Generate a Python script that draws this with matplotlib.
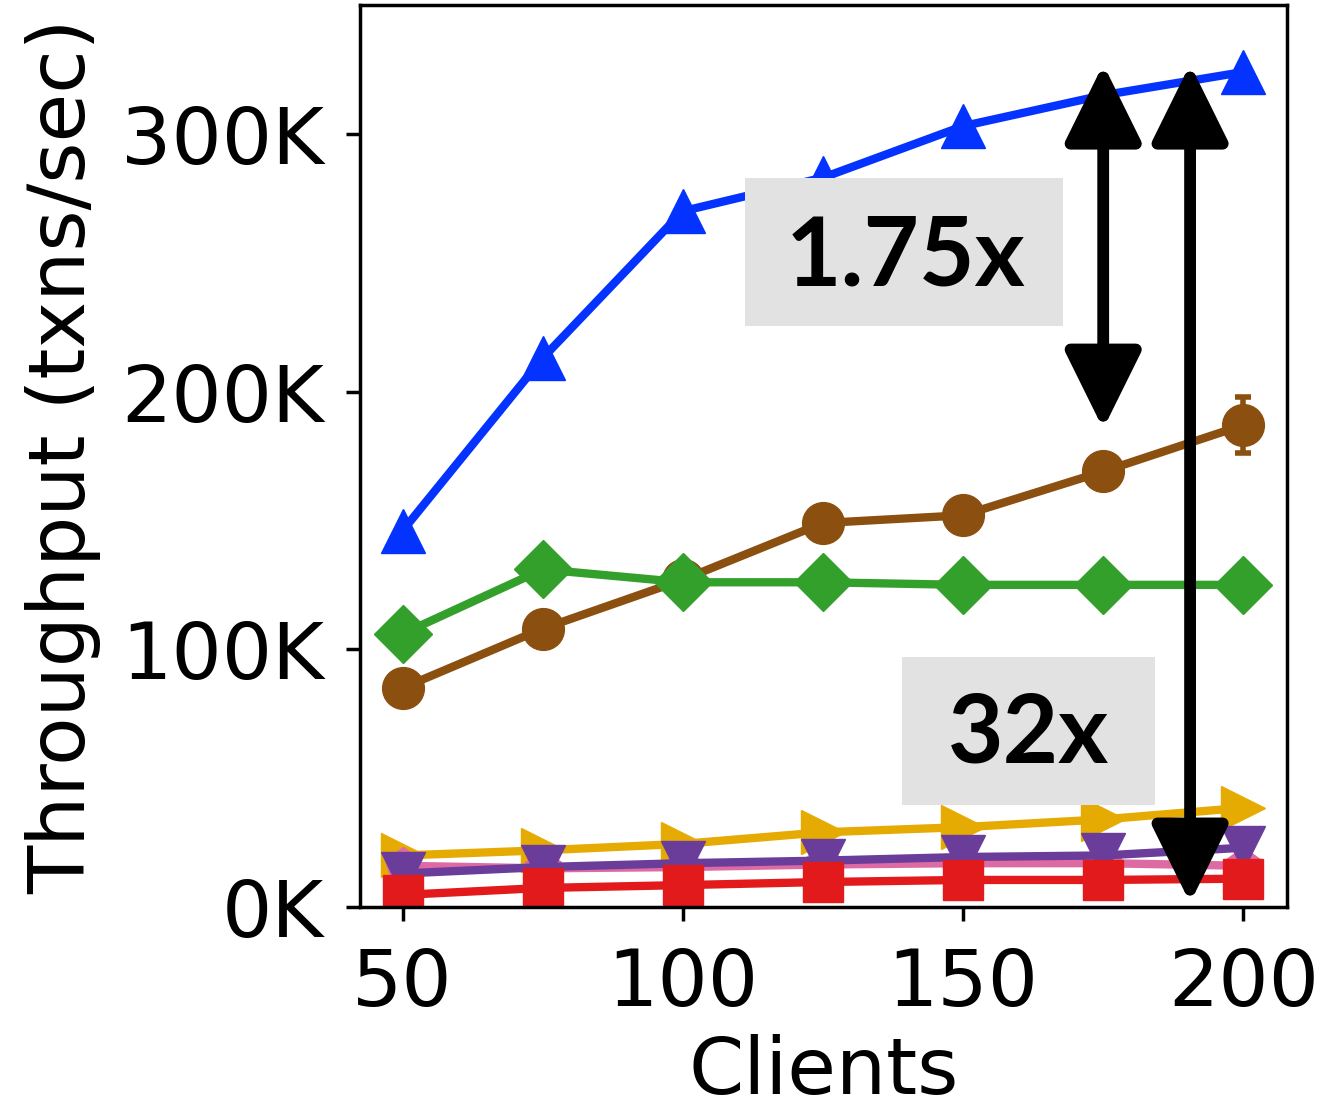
import numpy as np
import matplotlib
matplotlib.use('Agg')
import matplotlib.pyplot as plt
from matplotlib.patches import Rectangle

# data
clients = [50, 75, 100, 125, 150, 175, 200]
blue_tp = [146e3, 213e3, 270e3, 283e3, 303e3, 315e3, 324e3]
brown_tp = [85e3, 108e3, 127e3, 149e3, 152e3, 169e3, 187e3]
brown_err = [0, 0, 0, 0, 0, 0, 11e3]
green_tp = [106e3, 131e3, 126e3, 126e3, 125e3, 125e3, 125e3]
orange_tp = [20e3, 22e3, 24.5e3, 29e3, 31e3, 34e3, 38.5e3]
pink_tp = [16e3, 15e3, 15.5e3, 16.5e3, 17e3, 17e3, 16e3]
purple_tp = [13e3, 15.5e3, 17e3, 18e3, 19.4e3, 20e3, 23e3]
red_tp = [4.7e3, 7.4e3, 8.5e3, 9.7e3, 10.5e3, 10.5e3, 11e3]

yticks = [0, 100e3, 200e3, 300e3]
ytick_labels = ['0K', '100K', '200K', '300K']
xticks = [50, 100, 150, 200]

fig = plt.figure(figsize=(13.21, 11.08), dpi=100)
ax = fig.add_axes([0.2725, 0.1814, 0.7018, 0.8141])

lw = 6
ms = 31
ax.plot(clients, orange_tp, color='#e6ab02', marker='>', lw=lw, ms=ms, zorder=2)
ax.plot(clients, pink_tp, color='#de6aa3', marker='p', lw=lw, ms=ms * 0.9, zorder=2.1)
ax.plot(clients, purple_tp, color='#6a3d9a', marker='v', lw=lw, ms=ms, zorder=2.2)
ax.plot(clients, red_tp, color='#e31a1c', marker='s', lw=lw, ms=ms * 0.95, zorder=2.3)
ax.errorbar(clients, brown_tp, yerr=brown_err, color='#8b4f0f', marker='o', lw=lw, ms=ms * 0.97,
            elinewidth=4, capsize=6, capthick=4, zorder=2.4)
ax.plot(clients, green_tp, color='#33a02c', marker='D', lw=lw, ms=ms * 0.95, zorder=2.5)
ax.plot(clients, blue_tp, color='#0433ff', marker='^', lw=lw, ms=ms, zorder=2.6)

ax.set_xlim(42.4, 207.8)
ax.set_ylim(0, 350e3)
ax.set_xticks(xticks)
ax.set_yticks(yticks)
ax.set_yticklabels(ytick_labels)
ax.tick_params(labelsize=57, length=10, width=2.5)
ax.tick_params(axis='y', pad=16)
ax.tick_params(axis='x', pad=18)
for s in ax.spines.values():
    s.set_linewidth(2.5)
ax.set_xlabel('Clients', fontsize=57, labelpad=9)
ax.set_ylabel('Throughput (txns/sec)', fontsize=57, labelpad=14)

# grey label boxes
W, H = 1321, 1108
fig.patches.append(Rectangle((745 / W, 1 - 326 / H), 318 / W, 148 / H,
                             transform=fig.transFigure, facecolor='#e2e2e2',
                             edgecolor='none', zorder=5))
fig.patches.append(Rectangle((902 / W, 1 - 805 / H), 253 / W, 148 / H,
                             transform=fig.transFigure, facecolor='#e2e2e2',
                             edgecolor='none', zorder=5))
ax.set_zorder(1)
fig.text(906 / W, 1 - 258 / H, '1.75x', fontsize=69, fontweight='bold', family='Lato',
         ha='center', va='center', zorder=10)
fig.text(1028 / W, 1 - 735 / H, '32x', fontsize=69, fontweight='bold', family='Lato',
         ha='center', va='center', zorder=10)

# double-headed arrows
arrow_style = '<|-|>,head_length=0.85,head_width=0.42'
ax.annotate('', xy=(175, 185.5e3), xytext=(175, 327e3),
            arrowprops=dict(arrowstyle=arrow_style, mutation_scale=56, lw=8.5,
                            color='black', shrinkA=0, shrinkB=0), zorder=12,
            annotation_clip=False)
ax.annotate('', xy=(190.5, 1.6e3), xytext=(190.5, 327e3),
            arrowprops=dict(arrowstyle=arrow_style, mutation_scale=56, lw=8.5,
                            color='black', shrinkA=0, shrinkB=0), zorder=12,
            annotation_clip=False)

fig.savefig('out.png', dpi=100)
